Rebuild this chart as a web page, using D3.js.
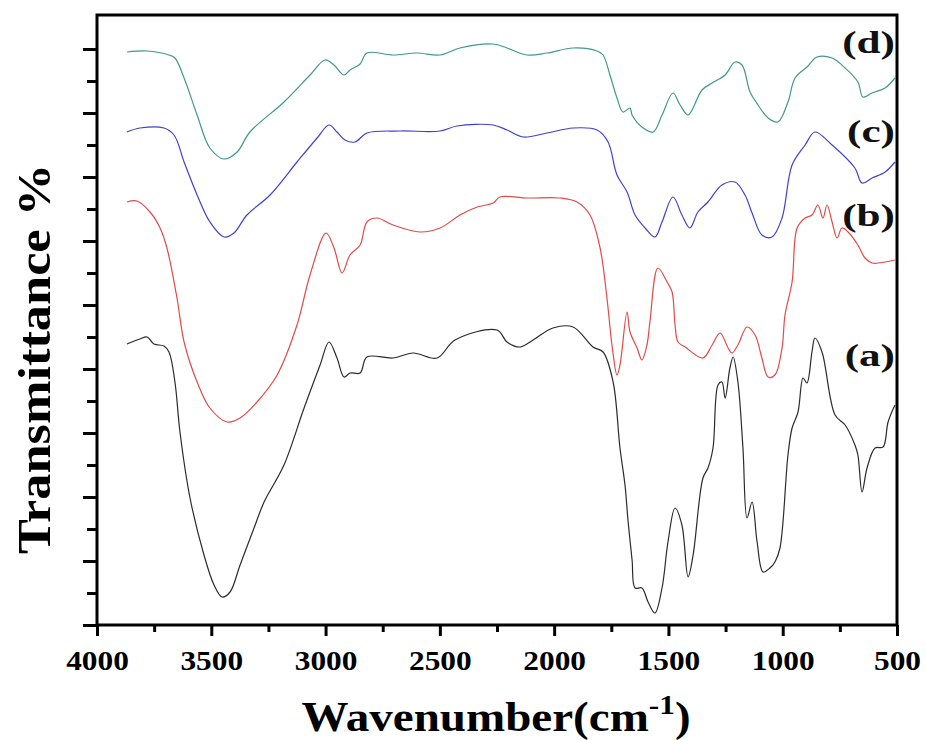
<!DOCTYPE html>
<html>
<head>
<meta charset="utf-8">
<script src="https://cdn.jsdelivr.net/npm/d3@7"></script>
<style>
  body { margin: 0; background: #fff; }
  svg { display: block; }
</style>
</head>
<body>
<svg width="926" height="740"></svg>
<script>
// FTIR spectra, wavenumber (cm-1) vs transmittance (arbitrary units, offset per trace)
const wnA = [3869,3812,3781,3751,3707,3685,3659,3637,3593,3532,3488,3453,3418,3374,3313,3269,3182,3094,3024,2985,2950,2919,2893,2849,2819,2705,2617,2512,2434,2250,2206,2149,2092,2005,1917,1830,1786,1742,1712,1690,1677,1659,1646,1616,1589,1559,1528,1502,1471,1441,1414,1392,1349,1327,1305,1283,1266,1252,1231,1217,1196,1174,1156,1134,1112,1086,1056,1034,1012,977,959,933,911,894,872,859,828,771,727,684,671,653,631,596,561,539,509];
const tA = [28.1,28.6,28.8,28.1,27.9,27.3,24.3,19.3,12.7,7.0,4.0,2.8,3.3,6.0,9.7,12.3,16.0,21.7,26.0,28.3,26.7,24.8,25.2,25.2,26.8,26.7,27.2,26.7,28.5,29.5,28.3,27.8,28.5,29.7,29.8,27.8,27.3,24.3,17.7,14.0,10.5,6.5,3.7,3.7,2.3,1.2,3.7,8.3,11.7,10.0,4.8,7.0,14.7,15.7,17.7,24.0,24.3,22.7,25.7,26.8,24.3,17.7,10.7,12.3,8.3,5.3,5.7,6.3,7.7,17.0,19.7,21.3,24.7,24.2,27.3,28.7,27.3,21.0,20.0,18.0,17.0,13.3,15.7,17.7,17.8,20.3,22.0];

const wnB = [3869,3825,3768,3724,3694,3650,3619,3562,3506,3431,3374,3300,3212,3125,3068,2998,2963,2928,2893,2849,2819,2775,2705,2587,2499,2412,2337,2267,2237,2119,1974,1900,1843,1799,1769,1747,1725,1712,1681,1668,1637,1616,1594,1581,1546,1506,1484,1471,1458,1427,1349,1309,1274,1239,1222,1196,1156,1121,1091,1064,1034,1003,990,959,937,902,872,846,824,806,784,762,741,714,671,640,609,552,509];
const tB = [42.3,42.4,41.3,39.7,37.7,32.7,28.3,24.3,21.7,20.3,20.7,22.3,25.0,30.0,35.0,39.2,37.7,35.2,37.0,38.0,40.3,40.7,40.0,39.3,39.7,41.0,41.8,42.2,42.8,42.7,42.7,42.3,41.0,37.7,32.7,28.0,25.0,26.0,31.3,29.3,27.7,26.5,28.0,30.3,35.7,34.3,33.3,30.0,28.3,27.8,26.7,28.0,29.2,27.7,27.2,28.0,29.8,29.0,26.7,24.8,25.0,27.7,31.0,34.3,39.7,40.7,41.0,42.0,40.7,42.0,40.3,38.7,39.7,39.3,38.0,36.7,36.2,36.3,36.5];

const wnC = [3869,3812,3707,3663,3619,3562,3506,3444,3401,3344,3243,3125,3037,2985,2950,2915,2871,2819,2674,2499,2425,2267,2206,2136,2031,1917,1812,1764,1725,1681,1646,1602,1559,1528,1480,1441,1406,1371,1327,1266,1209,1165,1134,1091,1047,1003,959,902,859,784,684,653,609,552,509];
const tC = [49.3,49.7,49.7,49.0,46.3,43.0,40.3,38.8,39.2,41.0,43.0,46.3,48.7,50.0,49.3,48.5,48.3,49.2,49.4,49.4,49.9,50.0,49.5,48.8,49.2,49.7,49.5,48.3,45.0,43.3,41.0,39.7,38.8,40.3,42.8,41.0,39.7,41.3,42.3,44.0,44.3,43.0,41.2,39.0,38.8,40.7,46.0,48.0,49.3,48.0,45.7,44.2,44.7,45.3,46.3];

const wnD = [3869,3781,3685,3659,3619,3562,3506,3444,3387,3331,3182,3068,3002,2963,2919,2893,2849,2819,2705,2600,2499,2412,2267,2206,2119,2031,1917,1812,1786,1756,1725,1699,1668,1659,1616,1567,1528,1480,1449,1414,1353,1309,1252,1209,1178,1143,1108,1064,1021,977,946,894,850,784,727,671,649,609,552,509];
const tD = [57.3,57.4,57.0,56.7,54.7,51.0,47.7,46.6,47.3,49.3,52.3,55.0,56.5,56.0,55.0,55.5,56.1,57.2,57.0,57.2,57.0,57.7,58.1,57.7,57.0,57.2,57.7,57.4,57.0,55.0,52.7,51.3,51.7,51.0,49.8,49.3,51.0,53.2,52.0,51.0,53.5,54.2,55.0,56.3,56.0,53.3,52.0,50.7,50.3,52.3,54.7,55.8,56.8,56.7,55.7,54.3,52.8,53.2,53.7,54.7];

const seriesNames = ["(a)", "(b)", "(c)", "(d)"];
const xMajorTicks = [4000, 3500, 3000, 2500, 2000, 1500, 1000, 500];
const xMinorTicks = [3750, 3250, 2750, 2250, 1750, 1250, 750];
const yMajorTicks = [0, 6.4, 12.8, 19.2, 25.6, 32, 38.4, 44.8, 51.2, 57.6];
const yMinorTicks = [3.2, 9.6, 16, 22.4, 28.8, 35.2, 41.6, 48, 54.4];

// layout
const plotLeft = 97, plotRight = 897, plotTop = 15, plotBottom = 625;
const colors = ["#2b2b2b", "#e04a4a", "#4040d0", "#3f9a86"];
const labelY = [366, 226, 142, 53];
const serif = "Liberation Serif, Times New Roman, serif";

const svg = d3.select("svg");

const x = d3.scaleLinear().domain([4000, 500]).range([plotLeft, plotRight]);
const y = d3.scaleLinear().domain([0, 61]).range([plotBottom, plotTop]);

// spectra
const traces = [[wnA, tA], [wnB, tB], [wnC, tC], [wnD, tD]];
const line = d3.line()
    .x(d => x(d[0]))
    .y(d => y(d[1]))
    .curve(d3.curveCatmullRom.alpha(0.5));

traces.forEach(([wn, t], i) => {
    svg.append("path")
        .attr("d", line(wn.map((w, k) => [w, t[k]])))
        .attr("fill", "none")
        .attr("stroke", colors[i])
        .attr("stroke-width", 1.2)
        .attr("stroke-linejoin", "round");
});

// x axis: major with labels, minor without
const xMajor = svg.append("g")
    .attr("transform", `translate(0, ${plotBottom})`)
    .call(d3.axisBottom(x).tickValues(xMajorTicks).tickSize(11).tickPadding(14).tickFormat(d3.format("d")));
xMajor.select(".domain").remove();
xMajor.selectAll("line").attr("stroke", "#000").attr("stroke-width", 3);
xMajor.selectAll("text")
    .attr("font-family", serif)
    .attr("font-weight", "bold")
    .attr("font-size", 28)
    .attr("fill", "#000")
    .attr("transform", "scale(1.12,1)");

const xMinor = svg.append("g")
    .attr("transform", `translate(0, ${plotBottom})`)
    .call(d3.axisBottom(x).tickValues(xMinorTicks).tickSize(7).tickFormat(""));
xMinor.select(".domain").remove();
xMinor.selectAll("line").attr("stroke", "#000").attr("stroke-width", 3);

// y axis: ticks only
const yMajor = svg.append("g")
    .attr("transform", `translate(${plotLeft}, 0)`)
    .call(d3.axisLeft(y).tickValues(yMajorTicks).tickSize(14).tickFormat(""));
yMajor.select(".domain").remove();
yMajor.selectAll("line").attr("stroke", "#000").attr("stroke-width", 3);

const yMinor = svg.append("g")
    .attr("transform", `translate(${plotLeft}, 0)`)
    .call(d3.axisLeft(y).tickValues(yMinorTicks).tickSize(10).tickFormat(""));
yMinor.select(".domain").remove();
yMinor.selectAll("line").attr("stroke", "#000").attr("stroke-width", 3);

// frame
svg.append("rect")
    .attr("x", plotLeft)
    .attr("y", plotTop)
    .attr("width", plotRight - plotLeft)
    .attr("height", plotBottom - plotTop)
    .attr("fill", "none")
    .attr("stroke", "#000")
    .attr("stroke-width", 3);

// trace labels
seriesNames.forEach((name, i) => {
    svg.append("text")
        .attr("transform", `translate(895, ${labelY[i]}) scale(1.35,1)`)
        .attr("text-anchor", "end")
        .attr("font-family", serif)
        .attr("font-weight", "bold")
        .attr("font-size", 32)
        .attr("fill", "#111")
        .text(name);
});

// axis titles
const xTitle = svg.append("text")
    .attr("transform", "translate(496, 731) scale(1.12,1)")
    .attr("text-anchor", "middle")
    .attr("font-family", serif)
    .attr("font-weight", "bold")
    .attr("font-size", 42)
    .attr("fill", "#000");
xTitle.append("tspan").text("Wavenumber(cm");
xTitle.append("tspan").attr("font-size", 28).attr("dy", -17).text("-1");
xTitle.append("tspan").attr("dy", 17).text(")");

svg.append("text")
    .attr("transform", "translate(50, 359) rotate(-90)")
    .attr("text-anchor", "middle")
    .attr("font-family", serif)
    .attr("font-weight", "bold")
    .attr("font-size", 46)
    .attr("fill", "#000")
    .attr("textLength", 390)
    .attr("lengthAdjust", "spacingAndGlyphs")
    .text("Transmittance %");
</script>
</body>
</html>
